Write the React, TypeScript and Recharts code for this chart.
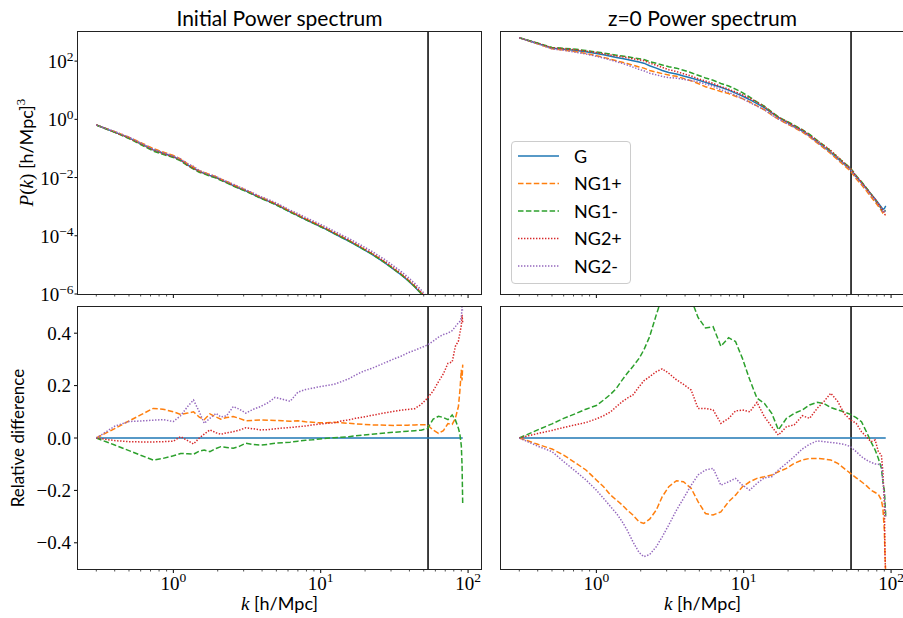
import { Legend, Line, LineChart, ReferenceLine, XAxis, YAxis } from 'recharts';

// wavenumbers shared by every curve [h/Mpc]
const K = [
  0.3, 0.4, 0.5, 0.6, 0.73, 0.85, 1.0, 1.12, 1.25, 1.37, 1.5, 1.62, 1.77, 1.95, 2.1, 2.3, 2.55, 2.8, 3.1, 3.5, 3.9,
  4.4, 4.9, 5.5, 6.2, 7.0, 7.9, 8.8, 9.8, 11, 12.3, 13.8, 15.5, 17.2, 19.5, 22, 25, 28, 31.5, 35, 39, 43.5, 48, 53,
  58, 63, 68, 73, 78, 82, 86, 88, 90, 91, 92,
];

// Gaussian power spectra
const P_INIT_G = [
  0.64, 0.365, 0.23, 0.146, 0.089, 0.068, 0.052, 0.04, 0.027, 0.021, 0.016, 0.014, 0.0117, 0.01, 0.0083, 0.0068,
  0.0053, 0.0043, 0.0035, 0.0026, 0.002, 0.00155, 0.00122, 0.00091, 0.00066, 0.00049, 0.00036, 0.00028, 0.000214,
  0.000162, 0.00012, 8.9e-5, 6.6e-5, 4.9e-5, 3.4e-5, 2.4e-5, 1.58e-5, 1.07e-5, 6.8e-6, 4.6e-6, 2.9e-6, 1.74e-6,
  1.03e-6, 5.6e-7, 3.5e-7, 2.3e-7, 1.5e-7, 1.0e-7, 7e-8, 5e-8, 4e-8, 3.5e-8, 3e-8, 2.8e-8, 2.6e-8,
];
const P_Z0_G = [
  631, 404, 279, 257, 232, 209, 183, 165, 148, 134, 123, 114, 103, 92.5, 85.1, 69.2, 57.5, 47.9, 40.7, 35.8, 30.6,
  26.1, 22.4, 18.6, 15.5, 12.6, 10.1, 7.94, 6.31, 4.72, 3.44, 2.51, 1.65, 1.17, 0.813, 0.575, 0.398, 0.269, 0.167,
  0.112, 0.0724, 0.0447, 0.0295, 0.0195, 0.0107, 0.00676, 0.00427, 0.00275, 0.00182, 0.00132, 0.000955, 0.000813,
  0.000851, 0.000955, 0.00107,
];

// relative differences, initial conditions
const D_INIT_G = [
  0, 0, 0, 0, 0, 0, 0, 0, 0, 0, 0, 0, 0, 0, 0, 0, 0, 0, 0, 0, 0, 0, 0, 0, 0, 0, 0, 0, 0, 0, 0, 0, 0, 0, 0, 0, 0, 0,
  0, 0, 0, 0, 0, 0, 0, 0, 0, 0, 0, 0, 0, 0, 0, 0, 0,
];
const D_INIT_NG1P = [
  0, 0.036, 0.065, 0.088, 0.113, 0.11, 0.1, 0.09, 0.095, 0.1, 0.08, 0.07, 0.092, 0.08, 0.072, 0.078, 0.082, 0.075,
  0.066, 0.067, 0.069, 0.068, 0.067, 0.066, 0.064, 0.066, 0.062, 0.06, 0.058, 0.058, 0.06, 0.058, 0.056, 0.054,
  0.052, 0.05, 0.05, 0.049, 0.048, 0.049, 0.049, 0.05, 0.051, 0.05, 0.03, 0.018, 0.028, 0.055, 0.052, 0.075, 0.12,
  0.18, 0.26, 0.22, 0.28,
];
const D_INIT_NG1M = [
  0, -0.027, -0.048, -0.066, -0.084, -0.078, -0.068, -0.059, -0.06, -0.062, -0.05, -0.046, -0.052, -0.04, -0.033,
  -0.036, -0.039, -0.032, -0.02, -0.025, -0.027, -0.024, -0.02, -0.018, -0.016, -0.012, -0.009, -0.007, -0.004,
  -0.001, 0.001, 0.003, 0.005, 0.008, 0.011, 0.014, 0.017, 0.02, 0.022, 0.024, 0.026, 0.028, 0.03, 0.036, 0.072,
  0.083, 0.078, 0.07, 0.088, 0.069, 0.037, 0.015, -0.03, -0.1, -0.256,
];
const D_INIT_NG2P = [
  0, -0.01, -0.014, -0.015, -0.015, -0.014, -0.012, 0.005, -0.01, -0.023, 0, 0.015, 0.031, 0.02, 0.014, 0.02, 0.024,
  0.03, 0.039, 0.035, 0.031, 0.032, 0.035, 0.038, 0.04, 0.043, 0.046, 0.05, 0.053, 0.056, 0.058, 0.065, 0.069,
  0.075, 0.08, 0.086, 0.092, 0.097, 0.102, 0.106, 0.109, 0.112, 0.128, 0.152, 0.18, 0.215, 0.245, 0.285, 0.29,
  0.35, 0.37, 0.4, 0.43, 0.47, 0.44,
];
const D_INIT_NG2M = [
  0, 0.045, 0.063, 0.065, 0.068, 0.07, 0.063, 0.085, 0.12, 0.145, 0.1, 0.056, 0.075, 0.094, 0.08, 0.085, 0.12, 0.11,
  0.095, 0.11, 0.12, 0.135, 0.155, 0.148, 0.14, 0.175, 0.185, 0.19, 0.196, 0.2, 0.205, 0.215, 0.226, 0.24, 0.255,
  0.265, 0.278, 0.29, 0.302, 0.312, 0.325, 0.335, 0.345, 0.355, 0.37, 0.385, 0.395, 0.4, 0.41, 0.425, 0.44, 0.445,
  0.46, 0.5, 0.48,
];

// relative differences, z = 0
const D_Z0_G = [
  0, 0, 0, 0, 0, 0, 0, 0, 0, 0, 0, 0, 0, 0, 0, 0, 0, 0, 0, 0, 0, 0, 0, 0, 0, 0, 0, 0, 0, 0, 0, 0, 0, 0, 0, 0, 0, 0,
  0, 0, 0, 0, 0, 0, 0, 0, 0, 0, 0, 0, 0, 0, 0, 0, 0,
];
const D_Z0_NG1P = [
  0, -0.024, -0.042, -0.065, -0.097, -0.122, -0.16, -0.186, -0.218, -0.237, -0.256, -0.275, -0.294, -0.32, -0.326,
  -0.31, -0.275, -0.224, -0.186, -0.163, -0.167, -0.192, -0.243, -0.288, -0.294, -0.282, -0.243, -0.218, -0.186,
  -0.167, -0.154, -0.148, -0.141, -0.129, -0.116, -0.097, -0.084, -0.078, -0.078, -0.08, -0.084, -0.097, -0.116,
  -0.135, -0.152, -0.167, -0.182, -0.199, -0.208, -0.215, -0.237, -0.269, -0.35, -0.45, -0.52,
];
const D_Z0_NG1M = [
  0, 0.031, 0.054, 0.075, 0.094, 0.11, 0.124, 0.145, 0.167, 0.19, 0.222, 0.247, 0.273, 0.304, 0.336, 0.387, 0.47,
  0.54, 0.58, 0.6, 0.59, 0.53, 0.46, 0.42, 0.425, 0.35, 0.383, 0.368, 0.304, 0.222, 0.152, 0.132, 0.094, 0.031,
  0.075, 0.094, 0.107, 0.126, 0.136, 0.132, 0.116, 0.107, 0.1, 0.09, 0.078, 0.062, 0.024, -0.014, -0.046, -0.078,
  -0.116, -0.167, -0.2, -0.243, -0.3,
];
const D_Z0_NG2P = [
  0, 0.017, 0.029, 0.04, 0.051, 0.059, 0.073, 0.085, 0.1, 0.12, 0.139, 0.152, 0.164, 0.196, 0.218, 0.234, 0.253,
  0.264, 0.247, 0.222, 0.205, 0.183, 0.113, 0.113, 0.107, 0.056, 0.075, 0.103, 0.107, 0.1, 0.136, 0.082, 0.043,
  0.011, 0.043, 0.05, 0.085, 0.075, 0.113, 0.139, 0.171, 0.139, 0.094, 0.069, 0.056, 0.024, 0.005, -0.014, -0.008,
  -0.052, -0.065, -0.129, -0.25, -0.45, -0.55,
];
const D_Z0_NG2M = [
  0, -0.031, -0.052, -0.09, -0.129, -0.16, -0.199, -0.231, -0.262, -0.288, -0.32, -0.352, -0.396, -0.437, -0.453,
  -0.445, -0.415, -0.377, -0.332, -0.275, -0.231, -0.18, -0.141, -0.122, -0.116, -0.18, -0.167, -0.154, -0.18,
  -0.199, -0.173, -0.152, -0.148, -0.122, -0.097, -0.071, -0.042, -0.024, -0.011, -0.014, -0.017, -0.02, -0.024,
  -0.033, -0.052, -0.071, -0.084, -0.093, -0.099, -0.1, -0.105, -0.167, -0.22, -0.26, -0.3,
];

const X_TICKS = [0.3, 0.4, 0.5, 0.6, 0.7, 0.8, 0.9, 1, 2, 3, 4, 5, 6, 7, 8, 9, 10, 20, 30, 40, 50, 60, 70, 80, 90, 100];
const X_MAJOR = [1, 10, 100];
const P_TICKS = [1e-6, 1e-4, 1e-2, 1, 100];
const D_TICKS = [-0.4, -0.2, 0, 0.2, 0.4];
const K_LINE = 53.5;

const X_DOMAIN: [number, number] = [0.2254, 122.4];
const P_DOMAIN: [number, number] = [1e-6, 1e3];
const D_DOMAIN: [number, number] = [-0.5, 0.5];

const SERIES = [
  { key: 'G', name: 'G', color: '#1f77b4', dash: undefined as string | undefined },
  { key: 'NG1p', name: 'NG1+', color: '#ff7f0e', dash: '5.5 2.4' },
  { key: 'NG1m', name: 'NG1-', color: '#2ca02c', dash: '5.5 2.4' },
  { key: 'NG2p', name: 'NG2+', color: '#d62728', dash: '1.4 1.6' },
  { key: 'NG2m', name: 'NG2-', color: '#9467bd', dash: '1.4 1.6' },
];

type Row = { k: number; G: number; NG1p: number; NG1m: number; NG2p: number; NG2m: number };

function diffRows(g: number[], n1p: number[], n1m: number[], n2p: number[], n2m: number[]): Row[] {
  return K.map((k, i) => ({ k, G: g[i], NG1p: n1p[i], NG1m: n1m[i], NG2p: n2p[i], NG2m: n2m[i] }));
}

// P_NG = P_G * (1 + relative difference)
function powerRows(p: number[], d: Row[]): Row[] {
  return d.map((r, i) => ({
    k: r.k,
    G: p[i] * (1 + r.G),
    NG1p: p[i] * (1 + r.NG1p),
    NG1m: p[i] * (1 + r.NG1m),
    NG2p: p[i] * (1 + r.NG2p),
    NG2m: p[i] * (1 + r.NG2m),
  }));
}

const initDiff = diffRows(D_INIT_G, D_INIT_NG1P, D_INIT_NG1M, D_INIT_NG2P, D_INIT_NG2M);
const z0Diff = diffRows(D_Z0_G, D_Z0_NG1P, D_Z0_NG1M, D_Z0_NG2P, D_Z0_NG2M);
const initPower = powerRows(P_INIT_G, initDiff);
const z0Power = powerRows(P_Z0_G, z0Diff);

const SERIF = '"Liberation Serif", "DejaVu Serif", serif';
const SANS = 'Lato, "Open Sans", sans-serif';

const PW = 403;
const PH = 262;
const MT = 10;
const MR = 10;
const XH = 45;
const YW_L = 80;
const YW_R = 10;

const supText = (v: number) => {
  const e = Math.round(Math.log10(v));
  return e < 0 ? '\u2212' + Math.abs(e) : String(e);
};

function makeXTick(showLabel: boolean) {
  return (props: any) => {
    const { x, payload } = props;
    const v = payload.value;
    const major = X_MAJOR.includes(v);
    const y0 = MT + PH;
    return (
      <g>
        <line x1={x} x2={x} y1={y0} y2={y0 + (major ? 4 : 2.5)} stroke="#000" strokeWidth={major ? 1 : 0.7} />
        {showLabel && major ? (
          <text x={x} y={y0 + 21} textAnchor="middle" fontFamily={SERIF} fontSize={19} fill="#000">
            10
            <tspan dy={-8} fontSize={13.5}>
              {supText(v)}
            </tspan>
          </text>
        ) : null}
      </g>
    );
  };
}

const logYTick = (props: any) => {
  const { y, payload } = props;
  return (
    <g>
      <line x1={YW_L - 3.5} x2={YW_L} y1={y} y2={y} stroke="#000" strokeWidth={1} />
      <text x={YW_L - 4.5} y={y + 7} textAnchor="end" fontFamily={SERIF} fontSize={19} fill="#000">
        10
        <tspan dy={-7} fontSize={13.5}>
          {supText(payload.value)}
        </tspan>
      </text>
    </g>
  );
};

const linYTick = (props: any) => {
  const { y, payload } = props;
  const label = payload.value.toFixed(1).replace('-', '\u2212');
  return (
    <g>
      <line x1={YW_L - 4} x2={YW_L} y1={y} y2={y} stroke="#000" strokeWidth={1} />
      <text x={YW_L - 7} y={y + 6.5} textAnchor="end" fontFamily={SERIF} fontSize={19} fill="#000">
        {label}
      </text>
    </g>
  );
};

function LegendBox() {
  return (
    <div
      style={{
        width: 120,
        height: 143,
        boxSizing: 'border-box',
        border: '1px solid #cccccc',
        borderRadius: 4,
        background: 'rgba(255,255,255,0.8)',
      }}
    >
      <svg width={118} height={141} style={{ display: 'block' }}>
        {SERIES.map((s, i) => {
          const cy = 14 + i * 27.5;
          return (
            <g key={s.key}>
              <line x1={6} x2={47} y1={cy} y2={cy} stroke={s.color} strokeWidth={1.5} strokeDasharray={s.dash} />
              <text x={62} y={cy + 6.5} fontFamily={SANS} fontSize={18} fill="#000">
                {s.name}
              </text>
            </g>
          );
        })}
      </svg>
    </div>
  );
}

type PanelProps = {
  left: number;
  top: number;
  rows: Row[];
  kind: 'P' | 'D';
  yLabels: boolean;
  xLabels: boolean;
  legend?: boolean;
};

function Panel({ left, top, rows, kind, yLabels, xLabels, legend }: PanelProps) {
  const yw = yLabels ? YW_L : YW_R;
  const isLog = kind === 'P';
  return (
    <div style={{ position: 'absolute', left: left - yw, top: top - MT }}>
      <LineChart width={yw + PW + MR} height={MT + PH + XH} data={rows} margin={{ top: MT, right: MR, bottom: 0, left: 0 }}>
        <XAxis
          dataKey="k"
          type="number"
          scale="log"
          domain={X_DOMAIN}
          allowDataOverflow
          ticks={X_TICKS}
          interval={0}
          tick={makeXTick(xLabels)}
          tickLine={false}
          axisLine={false}
          height={XH}
        />
        <YAxis
          type="number"
          scale={isLog ? 'log' : 'linear'}
          domain={isLog ? P_DOMAIN : D_DOMAIN}
          allowDataOverflow
          ticks={isLog ? P_TICKS : D_TICKS}
          interval={0}
          tick={yLabels ? (isLog ? logYTick : linYTick) : false}
          tickLine={false}
          axisLine={false}
          width={yw}
        />
        <ReferenceLine x={K_LINE} stroke="#000" strokeWidth={1.5} />
        {SERIES.map((s) => (
          <Line
            key={s.key}
            type="linear"
            dataKey={s.key}
            name={s.name}
            stroke={s.color}
            strokeWidth={1.5}
            strokeDasharray={s.dash}
            dot={false}
            activeDot={false}
            isAnimationActive={false}
          />
        ))}
        {legend ? (
          <Legend
            layout="vertical"
            align="center"
            verticalAlign="middle"
            wrapperStyle={{ left: 511 - (left - yw), top: 141 - (top - MT), width: 120 }}
            content={() => <LegendBox />}
          />
        ) : null}
      </LineChart>
    </div>
  );
}

const PANELS = [
  { left: 78, top: 32 },
  { left: 501, top: 32 },
  { left: 78, top: 307 },
  { left: 501, top: 307 },
];

export default function App() {
  return (
    <div
      style={{
        position: 'absolute',
        left: 0,
        top: 0,
        width: 903,
        height: 618,
        overflow: 'hidden',
        background: '#fff',
      }}
    >
      <Panel left={78} top={32} rows={initPower} kind="P" yLabels xLabels={false} />
      <Panel left={501} top={32} rows={z0Power} kind="P" yLabels={false} xLabels={false} legend />
      <Panel left={78} top={307} rows={initDiff} kind="D" yLabels xLabels />
      <Panel left={501} top={307} rows={z0Diff} kind="D" yLabels={false} xLabels />

      {PANELS.map((p, i) => (
        <div
          key={i}
          style={{
            position: 'absolute',
            left: p.left - 1,
            top: p.top - 1,
            width: PW + 2,
            height: PH + 2,
            boxSizing: 'border-box',
            border: '1px solid #222',
            pointerEvents: 'none',
          }}
        />
      ))}

      <svg width={903} height={618} style={{ position: 'absolute', left: 0, top: 0, pointerEvents: 'none' }}>
        <text x={279.5} y={26} textAnchor="middle" fontFamily={SANS} fontSize={21} fill="#000">
          Initial Power spectrum
        </text>
        <text x={702.5} y={26} textAnchor="middle" fontFamily={SANS} fontSize={21} fill="#000">
          z=0 Power spectrum
        </text>
        {[279.5, 702.5].map((cx) => (
          <text key={cx} x={cx} y={610} textAnchor="middle" fontFamily={SANS} fontSize={18} fill="#000">
            <tspan fontFamily={SERIF} fontStyle="italic" fontSize={19}>
              k
            </tspan>
            {' [h/Mpc]'}
          </text>
        ))}
        <text transform="translate(24 438) rotate(-90)" textAnchor="middle" fontFamily={SANS} fontSize={17} fill="#000">
          Relative difference
        </text>
        <text transform="translate(33 152.5) rotate(-90)" textAnchor="middle" fontFamily={SANS} fontSize={18} fill="#000">
          <tspan fontFamily={SERIF} fontStyle="italic" fontSize={19}>
            P
          </tspan>
          <tspan fontFamily={SERIF} fontSize={19}>
            (
          </tspan>
          <tspan fontFamily={SERIF} fontStyle="italic" fontSize={19}>
            k
          </tspan>
          <tspan fontFamily={SERIF} fontSize={19}>
            )
          </tspan>
          {' [h/Mpc]'}
          <tspan fontFamily={SERIF} fontSize={13} dy={-8}>
            3
          </tspan>
        </text>
      </svg>
    </div>
  );
}
